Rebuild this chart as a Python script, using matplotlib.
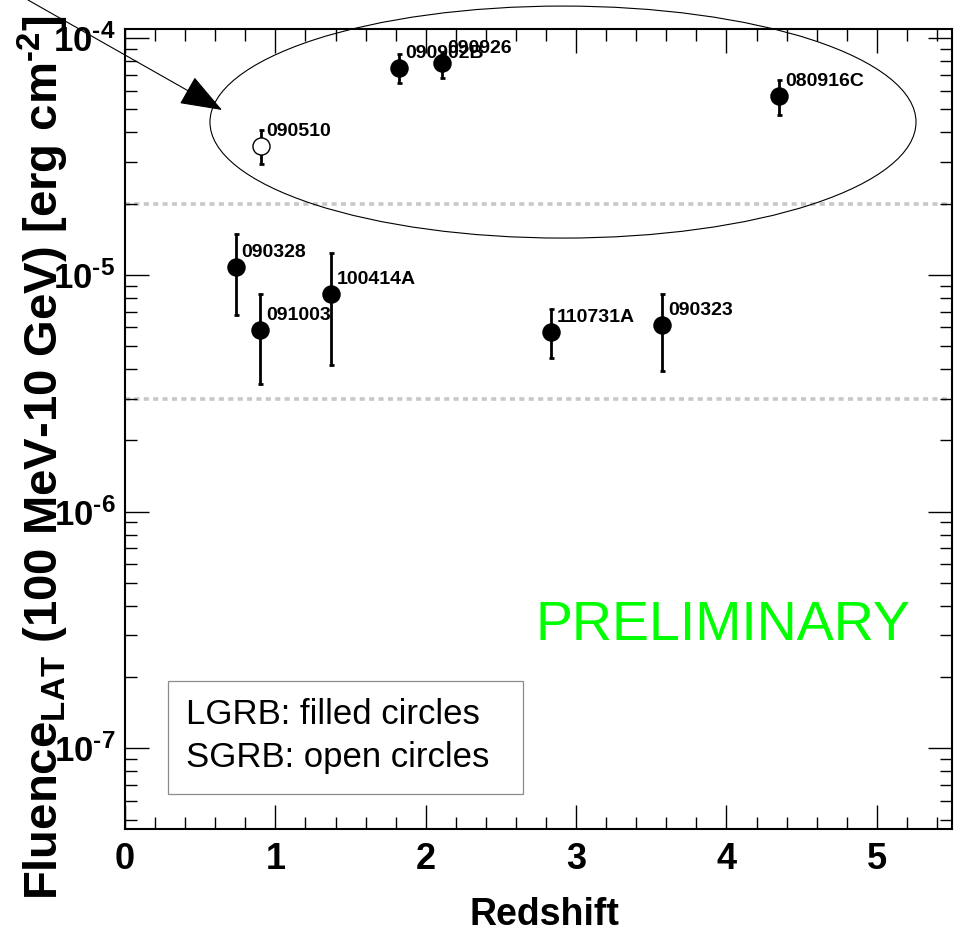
import numpy as np
import matplotlib
matplotlib.use('Agg')
import matplotlib.pyplot as plt
from matplotlib.patches import Ellipse, Rectangle
from matplotlib.ticker import FixedLocator, NullFormatter, MultipleLocator

plt.rcParams['font.family'] = ['Liberation Sans', 'DejaVu Sans']
plt.rcParams['mathtext.fontset'] = 'custom'
for k in ['rm', 'it', 'bf', 'sf']:
    plt.rcParams['mathtext.' + k] = 'Liberation Sans:bold'

# LAT fluence vs redshift
names = ['090510', '090902B', '090926', '080916C',
         '090328', '091003', '100414A', '110731A', '090323']
redshift = [0.903, 1.822, 2.106, 4.35, 0.736, 0.897, 1.368, 2.83, 3.57]
fluence = [3.49e-5, 7.5e-5, 7.87e-5, 5.69e-5,
           1.08e-5, 5.87e-6, 8.28e-6, 5.74e-6, 6.17e-6]
err_hi = [4.09e-5, 8.58e-5, 8.65e-5, 6.65e-5,
          1.49e-5, 8.28e-6, 1.24e-5, 7.15e-6, 8.34e-6]
err_lo = [2.93e-5, 6.5e-5, 6.76e-5, 4.76e-5,
          6.78e-6, 3.47e-6, 4.18e-6, 4.44e-6, 3.94e-6]
short_grb = [True, False, False, False, False, False, False, False, False]

levels = [2e-5, 3e-6]
ytick_vals = [1e-7, 1e-6, 1e-5, 1e-4]
ytick_labels = [r'$10^{\text{-}7}$', r'$10^{\text{-}6}$',
                r'$10^{\text{-}5}$', r'$10^{\text{-}4}$']

fig = plt.figure(figsize=(9.57, 9.44), dpi=100)
ax = fig.add_axes([0.1306, 0.1215, 0.8642, 0.8475])
ax.set_yscale('log')
ax.set_xlim(0, 5.5)
ax.set_ylim(4.55e-8, 1.091e-4)

for lv in levels:
    ax.axhline(lv, color='#c8c8c8', lw=2.6, ls=(0, (1.4, 1.2)), zorder=1)

f = np.array(fluence)
yerr = [f - np.array(err_lo), np.array(err_hi) - f]
ax.errorbar(redshift, fluence, yerr=yerr, fmt='none', ecolor='black',
            elinewidth=2.0, capsize=1.8, capthick=2.0, zorder=3)
for x, y, s in zip(redshift, fluence, short_grb):
    ax.plot(x, y, 'o', ms=12.3, mec='black', mew=1.0,
            mfc='white' if s else 'black', zorder=4)
for x, y, n in zip(redshift, fluence, names):
    ax.annotate(n, (x, y), xytext=(4.3, 7.2), textcoords='offset points',
                ha='left', va='baseline', fontsize=14, fontweight='bold',
                zorder=5)

# ticks on all sides, pointing in
ax.xaxis.set_major_locator(MultipleLocator(1))
ax.xaxis.set_minor_locator(MultipleLocator(0.2))
ax.yaxis.set_major_locator(FixedLocator(ytick_vals))
minors = [m * 10.0**e for e in range(-8, -3) for m in range(2, 10)]
ax.yaxis.set_minor_locator(FixedLocator(minors))
ax.yaxis.set_minor_formatter(NullFormatter())
ax.set_yticklabels(ytick_labels)
ax.tick_params(which='both', direction='in', top=True, right=True, width=1.0)
ax.tick_params(which='major', length=17.5)
ax.tick_params(which='minor', length=8.7)
ax.tick_params(axis='x', labelsize=26, pad=9)
ax.tick_params(axis='y', labelsize=25, pad=7)
for lab in ax.get_xticklabels():
    lab.set_fontweight('bold')
for sp in ax.spines.values():
    sp.set_linewidth(1.5)

ax.text(0.4958, 0.2366, 'PRELIMINARY', transform=ax.transAxes,
        color='#00ff00', fontsize=40, va='baseline', ha='left')

ax.add_patch(Rectangle((0.0524, 0.04375), 0.4285, 0.142, transform=ax.transAxes,
                       fill=False, ec='#8c8c8c', lw=0.9, zorder=2))
ax.text(0.0738, 0.1316, 'LGRB: filled circles', transform=ax.transAxes,
        fontsize=25, va='baseline', ha='left')
ax.text(0.0738, 0.07825, 'SGRB: open circles', transform=ax.transAxes,
        fontsize=25, va='baseline', ha='left')

ax.add_patch(Ellipse((0.5296, 0.884), 0.8537, 0.29, transform=ax.transAxes,
                     fill=False, ec='black', lw=0.8, clip_on=False, zorder=2))
ax.annotate('', xy=(222 / 957, 1 - 110 / 944), xycoords='figure fraction',
            xytext=(28 / 957, 1.0), textcoords='figure fraction',
            arrowprops=dict(arrowstyle='-|>,head_length=1.35,head_width=0.5',
                            mutation_scale=20, lw=0.8, color='black',
                            shrinkA=0, shrinkB=0))

fig.text(544 / 957, 1 - 915 / 944, 'Redshift', fontsize=27, fontweight='bold',
         ha='center', va='center')
fig.text(43 / 957, 1 - 458 / 944,
         r'Fluence$_{LAT}$ (100 MeV-10 GeV) [erg cm$^{\text{-}2}$]',
         fontsize=34, fontweight='bold', rotation=90, ha='center', va='center')

fig.savefig('out.png', dpi=100)
